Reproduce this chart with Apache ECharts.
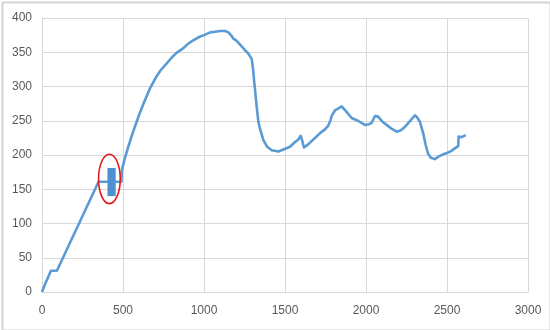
<!DOCTYPE html>
<html>
<head>
<meta charset="utf-8">
<script src="https://cdn.jsdelivr.net/npm/echarts@6/dist/echarts.min.js"></script>
<style>html,body{margin:0;padding:0;background:#fff}#c{width:550px;height:330px}</style>
</head>
<body>
<div id="c"></div>
<script>
// Curve samples
var curveX = [0, 20, 55, 92, 349, 490, 493, 510, 530, 550, 570, 600, 630, 668, 700, 730, 771, 800, 830, 873, 900, 930, 976, 1000, 1038, 1070, 1099, 1130, 1151, 1170, 1181, 1200, 1223, 1250, 1274, 1295, 1303, 1309, 1315, 1325, 1336, 1346, 1366, 1390, 1418, 1459, 1490, 1531, 1562, 1580, 1597, 1605, 1617, 1635, 1654, 1690, 1716, 1745, 1767, 1780, 1788, 1808, 1830, 1850, 1880, 1911, 1950, 1993, 2020, 2035, 2055, 2075, 2100, 2127, 2160, 2189, 2215, 2240, 2270, 2302, 2315, 2332, 2353, 2368, 2383, 2400, 2425, 2450, 2476, 2500, 2528, 2550, 2569, 2572, 2590, 2616];
var curveY = [0, 12, 31, 31, 161, 161, 178, 194, 210, 225, 239, 259, 277, 298, 312, 323, 334, 342, 349, 356, 362, 367, 373, 375, 379, 380, 381, 381, 379, 374, 370, 367, 361, 354, 348, 340, 325, 309, 295, 271, 248, 238, 222, 212, 207, 205, 208, 212, 219, 222, 228, 222, 211, 214, 218, 226, 232, 237, 243, 250, 257, 265, 268, 271, 263, 254, 250, 244, 245, 247, 257, 256, 249, 244, 238, 234, 236, 241, 249, 258, 255, 249, 232, 215, 202, 196, 194, 198, 201, 203, 206, 210, 213, 227, 226, 229];
// Highlight box: [xStart, xEnd, yLow, yHigh]
var boxBounds = [404, 455, 140, 181];
// Ellipse: [centerX, centerY, radiusX, radiusY] in data units
var ellipseSpec = [416, 165, 67, 36];
var xTicks = [0, 500, 1000, 1500, 2000, 2500, 3000];
var yTicks = [0, 50, 100, 150, 200, 250, 300, 350, 400];

var lineData = curveX.map(function (x, i) { return [x, curveY[i]]; });
var chart = echarts.init(document.getElementById('c'), null, {renderer: 'canvas'});
var labelStyle = {color: '#595959', fontSize: 12, fontFamily: 'Liberation Sans'};
var gridColor = '#d9d9d9';
chart.setOption({
  animation: false,
  backgroundColor: '#fff',
  graphic: [{
    type: 'rect', left: 0, top: 0, z: 100,
    shape: {x: 1, y: 1, width: 548, height: 328},
    style: {fill: 'none', stroke: '#d4d4d4', lineWidth: 2}
  }],
  grid: {left: 42, right: 22, top: 18, bottom: 38},
  xAxis: {
    type: 'value', min: xTicks[0], max: xTicks[xTicks.length - 1], interval: 500,
    axisLine: {show: true, lineStyle: {color: gridColor}},
    axisTick: {show: false},
    axisLabel: Object.assign({margin: 13, formatter: function (v) { return String(v); }}, labelStyle),
    splitLine: {show: true, lineStyle: {color: gridColor, width: 1}}
  },
  yAxis: {
    type: 'value', min: yTicks[0], max: yTicks[yTicks.length - 1], interval: 50,
    axisLine: {show: true, lineStyle: {color: gridColor}},
    axisTick: {show: false},
    axisLabel: Object.assign({margin: 10, formatter: function (v) { return String(v); }}, labelStyle),
    splitLine: {show: true, lineStyle: {color: gridColor, width: 1}}
  },
  series: [{
    type: 'line', data: lineData, showSymbol: false, symbol: 'none',
    lineStyle: {color: '#5b9bd5', width: 2.6, join: 'round'}, z: 3
  }, {
    type: 'custom', z: 4,
    data: [boxBounds],
    renderItem: function (params, api) {
      var p1 = api.coord([api.value(0), api.value(3)]);
      var p2 = api.coord([api.value(1), api.value(2)]);
      return {type: 'rect', shape: {x: p1[0], y: p1[1], width: p2[0] - p1[0], height: p2[1] - p1[1]},
        style: {fill: '#4f90d0'}};
    },
    encode: {x: [0, 1], y: [2, 3]}
  }, {
    type: 'custom', z: 5,
    data: [ellipseSpec],
    renderItem: function (params, api) {
      var c = api.coord([api.value(0), api.value(1)]);
      var s = api.size([api.value(2), api.value(3)]);
      return {type: 'ellipse', shape: {cx: c[0], cy: c[1], rx: s[0], ry: s[1]},
        style: {fill: 'none', stroke: '#e31a1c', lineWidth: 1.6}};
    },
    encode: {x: 0, y: 1}
  }]
});
</script>
</body>
</html>
